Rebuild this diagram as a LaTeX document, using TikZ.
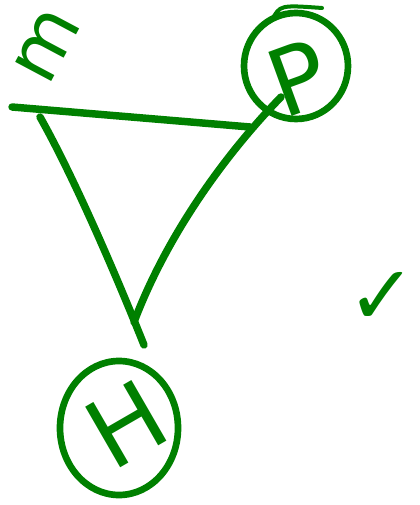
\documentclass[tikz,border=0pt]{standalone}
\usepackage{fontspec}
\setmainfont{DejaVu Sans}
\usetikzlibrary{shapes.geometric}
\definecolor{ink}{RGB}{0,128,0}
\begin{document}
\begin{tikzpicture}[x=0.75pt,y=-0.75pt,
  stroke/.style={draw=ink,line width=5.6pt,line cap=round,line join=round},
  ring/.style={ellipse,draw=ink,line width=5pt,inner sep=0pt},
  letter/.style={text=ink,inner sep=0pt}]
\useasboundingbox (0,0) rectangle (419,505);
% circles
\node[ring,minimum width=104*0.75pt,minimum height=106*0.75pt] (Pc) at (296,66) {};
\node[ring,minimum width=118*0.75pt,minimum height=134*0.75pt] (Hc) at (119,428) {};
% letters
\node[letter,rotate=20,font=\fontsize{70}{70}\selectfont] (P) at (298,78) {P};
\node[letter,rotate=30,font=\fontsize{72}{72}\selectfont] (H) at (126,424) {H};
\node[letter,rotate=62,font=\fontsize{56}{56}\selectfont,text height=0.56em,text depth=0pt] (m) at (62,54) {m};
\node[letter,font=\fontsize{62}{62}\selectfont] (chk) at (382,298) {✓};
% triangle
\coordinate (a) at (12,107);
\coordinate (b) at (250,127);
\coordinate (c) at (40,117);
\coordinate (d) at (144,345);
\coordinate (e) at (281,97);
\coordinate (f) at (134,322);
\draw[stroke] (a) -- (b);
\draw[stroke] (c) .. controls (70,170) and (110,260) .. (d);
\draw[stroke] (e) .. controls (220,160) and (165,240) .. (f);
% flourish on P circle
\coordinate (g) at (272,20);
\coordinate (h) at (322,8);
\draw[draw=ink,line width=3pt,line cap=round] (g) .. controls (280,5) .. (h);
\end{tikzpicture}
\end{document}
